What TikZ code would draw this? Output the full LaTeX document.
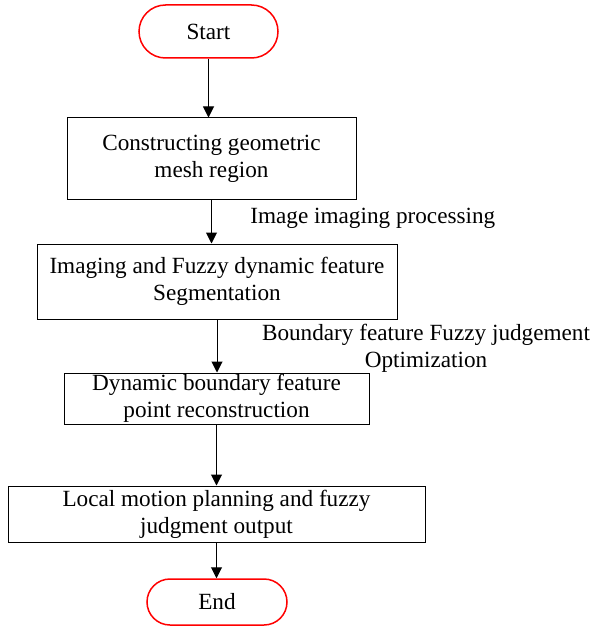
\documentclass[tikz,border=0pt]{standalone}
\usepackage{fontspec}
\setmainfont{Liberation Serif}
\usetikzlibrary{positioning, shapes.misc, arrows.meta}

\begin{document}
\begin{tikzpicture}[x=0.5pt, y=-0.5pt,
    block/.style={draw, line width=0.5pt, align=center, inner sep=0pt,
                  font=\fontsize{11.6}{13.5}\selectfont},
    terminal/.style={draw=red, rounded rectangle, line width=0.75pt,
                  inner sep=0pt, font=\fontsize{11.6}{13.5}\selectfont},
    arrow/.style={-{Triangle[length=5.5pt, width=5.5pt]}, line width=0.5pt},
    note/.style={align=center, inner sep=0pt, font=\fontsize{11.6}{13.5}\selectfont},
]
\useasboundingbox (0,0) rectangle (596,626);

% --- Start / End ---
\node[terminal, minimum width=69.5pt, minimum height=26.5pt] (start) at (208.5, 31.5) {Start};
\node[terminal, minimum width=70pt, minimum height=23pt] (end) at (217, 602) {End};

% --- Steps ---
\node[block, minimum width=144.5pt, minimum height=40.5pt] (mesh) at (211.5, 158.5)
    {Constructing geometric\\mesh region};
\node[block, minimum width=180pt, minimum height=37.5pt] (segm) at (217, 281.5)
    {Imaging and Fuzzy dynamic feature\\Segmentation};
\node[block, minimum width=152.5pt, minimum height=25.5pt] (recon) at (216.5, 398.5)
    {Dynamic boundary feature\\point reconstruction};
\node[block, minimum width=208.5pt, minimum height=28pt] (plan) at (216.5, 514)
    {Local motion planning and fuzzy\\judgment output};

% --- Labels ---
\node[note, anchor=west] (imgproc) at (250, 218) {Image imaging processing};
\node[note] (fuzzyopt) at (426, 348) {Boundary feature Fuzzy judgement\\Optimization};

% --- Main flow ---
\draw[arrow] (start.south) -- (start.south |- mesh.north);
\draw[arrow] (mesh.south) -- (mesh.south |- segm.north);
\draw[arrow] (segm.south) -- (segm.south |- recon.north);
\draw[arrow] (recon.south) -- (recon.south |- plan.north);
\draw[arrow] (plan.south) -- (plan.south |- end.north);
\end{tikzpicture}
\end{document}
